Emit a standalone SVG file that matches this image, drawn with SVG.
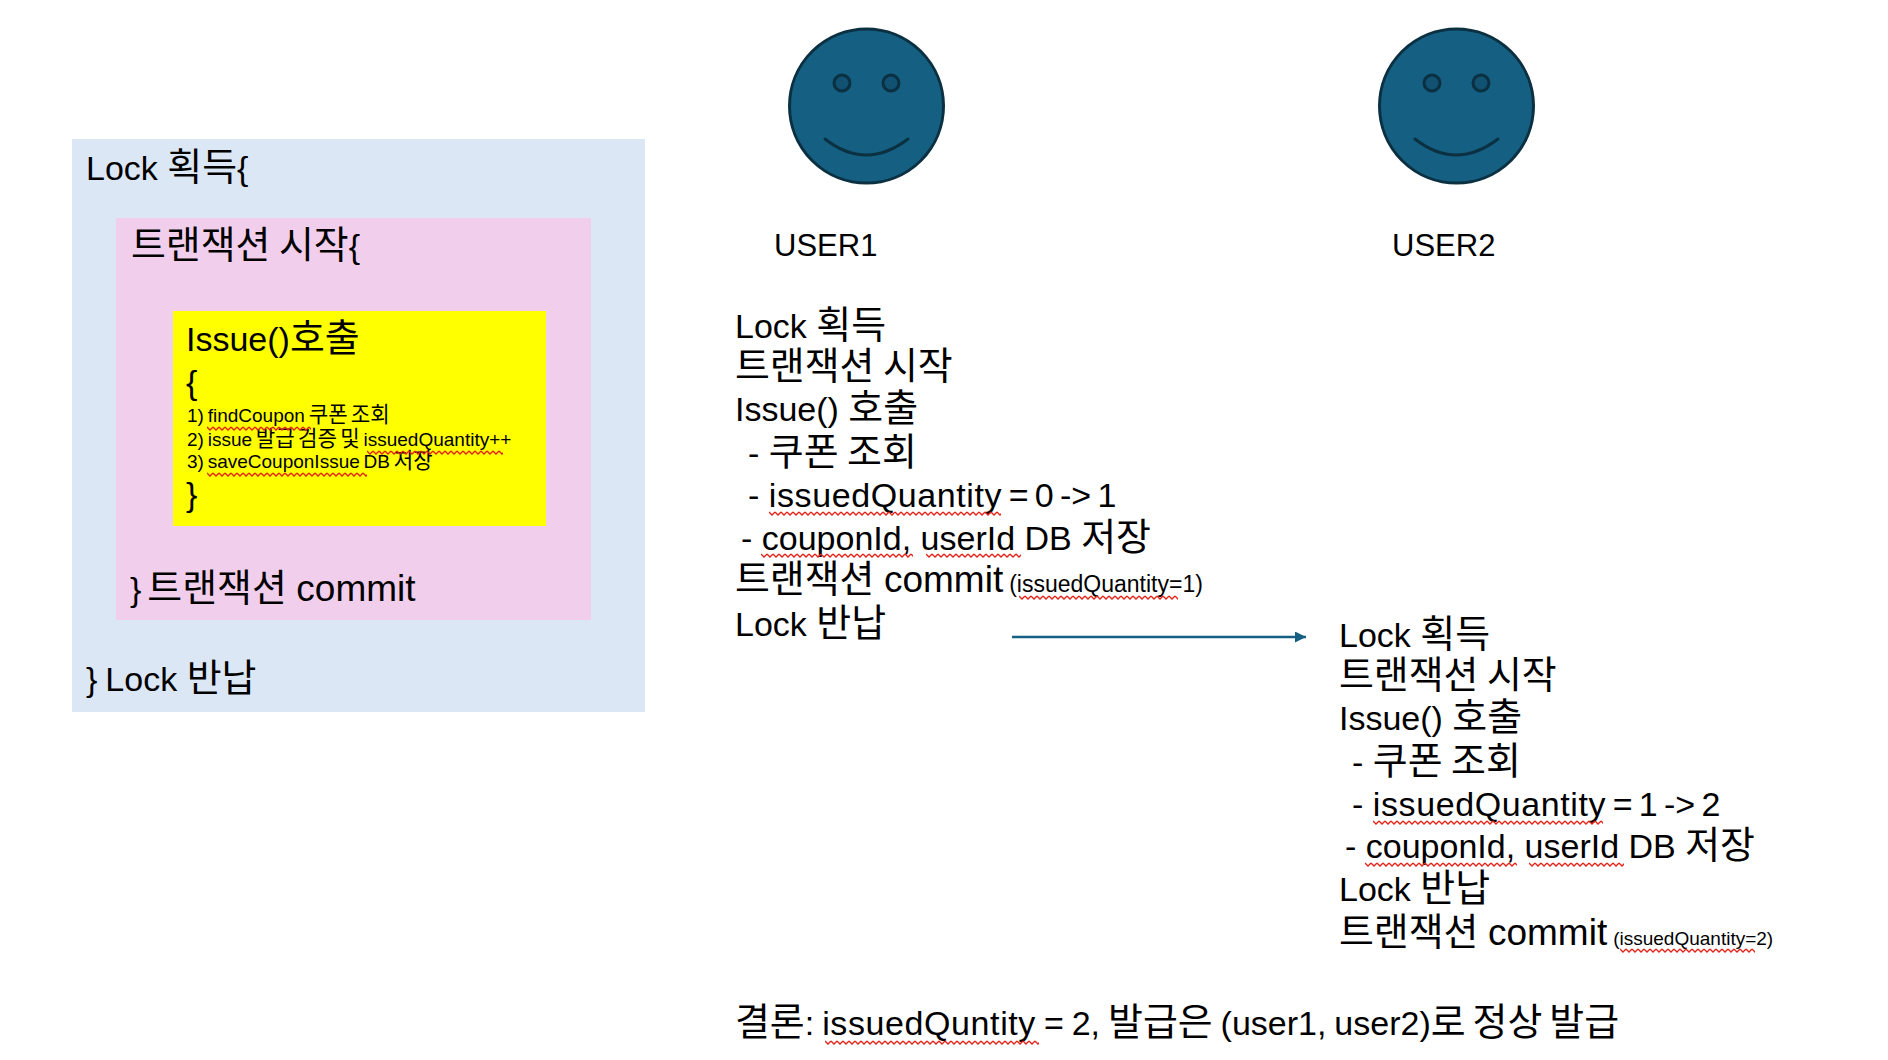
<svg xmlns="http://www.w3.org/2000/svg" width="1888" height="1060" viewBox="0 0 1888 1060">
<style>
text{font-family:"Liberation Sans","Noto Sans CJK KR",sans-serif;font-size:34px;fill:#000;white-space:pre}
tspan.k{font-family:"Noto Sans CJK KR","Liberation Sans",sans-serif;font-size:1.115em}
tspan.c{font-size:37px}
tspan.q{letter-spacing:.6px}
tspan.n{word-spacing:-2.7px;letter-spacing:-.2px}
text.t{font-size:19px;word-spacing:-1.5px}
text.u{font-size:31px}
.face{fill:#156082;stroke:#0b3041;stroke-width:3}
.eye{fill:#115272;stroke:#0b3041;stroke-width:3}
.smile{fill:none;stroke:#0b3041;stroke-width:3;stroke-linecap:round}
.w{fill:url(#wavy)}
</style>
<defs>
<pattern id="wavy" patternUnits="userSpaceOnUse" width="6" height="5"><path d="M0 1 L3 4 L6 1" fill="none" stroke="#e2231a" stroke-width="1.3"/></pattern>
<marker id="arr" markerUnits="userSpaceOnUse" markerWidth="12" markerHeight="12" refX="11" refY="5.5" orient="auto"><path d="M0 0 L11 5.5 L0 11 Z" fill="#156082"/></marker>
</defs>
<rect width="1888" height="1060" fill="#fff"/>
<g id="lock-box">
<rect x="72" y="139" width="573" height="573" fill="#dce7f6"/>
<text x="86" y="180">Lock <tspan class="k">획득</tspan>{</text>
<text x="86" y="691">}<tspan dx="8">Lock </tspan><tspan class="k">반납</tspan></text>
</g>
<g id="transaction-box">
<rect x="116" y="218" width="475" height="402" fill="#f1cfec"/>
<text x="131" y="258"><tspan class="k">트랜잭션 시작</tspan>{</text>
<text x="130" y="601">}<tspan dx="6" class="k">트랜잭션</tspan> <tspan class="c">commit</tspan></text>
</g>
<g id="issue-box">
<rect x="173" y="311" width="373" height="215" fill="#ffff00"/>
<text x="186" y="351">Issue()<tspan class="k">호출</tspan></text>
<text x="186" y="394">{</text>
<text class="t" x="187" y="422">1) findCoupon <tspan class="k">쿠폰 조회</tspan></text>
<text class="t" x="187" y="446">2) issue <tspan class="k">발급 검증 및</tspan> issuedQuantity++</text>
<text class="t" x="187" y="468">3) saveCouponIssue DB <tspan class="k">저장</tspan></text>
<text x="186" y="506">}</text>
<rect class="w" transform="translate(207,426)" width="104" height="5"/>
<rect class="w" transform="translate(367,450)" width="136" height="5"/>
<rect class="w" transform="translate(207,472)" width="160" height="5"/>
</g>
<g id="user1">
<circle class="face" cx="866.5" cy="106" r="77"/>
<circle class="eye" cx="842" cy="83" r="8"/>
<circle class="eye" cx="891" cy="83" r="8"/>
<path class="smile" d="M825 139 Q866 171 908 139"/>
<text class="u" x="774" y="256">USER1</text>
</g>
<g id="user2">
<circle class="face" cx="1456.5" cy="106" r="77"/>
<circle class="eye" cx="1432" cy="83" r="8"/>
<circle class="eye" cx="1481" cy="83" r="8"/>
<path class="smile" d="M1415 139 Q1456 171 1498 139"/>
<text class="u" x="1392" y="256">USER2</text>
</g>
<g id="user1-steps">
<text x="735" y="338">Lock <tspan class="k">획득</tspan></text>
<text x="735" y="379"><tspan class="k">트랜잭션 시작</tspan></text>
<text x="735" y="421">Issue() <tspan class="k">호출</tspan></text>
<text x="748" y="465">- <tspan class="k">쿠폰 조회</tspan></text>
<text x="748" y="507">- <tspan class="q">issuedQuantity</tspan><tspan class="n"> = 0 -&gt; 1</tspan></text>
<text x="741" y="550">- couponId, userId DB <tspan class="k">저장</tspan></text>
<text x="735" y="592"><tspan class="k">트랜잭션</tspan> <tspan class="c">commit</tspan><tspan dx="6" style="font-size:23px">(issuedQuantity=1)</tspan></text>
<text x="735" y="636">Lock <tspan class="k">반납</tspan></text>
<rect class="w" transform="translate(769,511)" width="232" height="5"/>
<rect class="w" transform="translate(761,553)" width="152" height="5"/>
<rect class="w" transform="translate(926,553)" width="95" height="5"/>
<rect class="w" transform="translate(1019,595)" width="159" height="5"/>
</g>
<g id="user2-steps">
<text x="1339" y="647">Lock <tspan class="k">획득</tspan></text>
<text x="1339" y="688"><tspan class="k">트랜잭션 시작</tspan></text>
<text x="1339" y="730">Issue() <tspan class="k">호출</tspan></text>
<text x="1352" y="774">- <tspan class="k">쿠폰 조회</tspan></text>
<text x="1352" y="816">- <tspan class="q">issuedQuantity</tspan><tspan class="n"> = 1 -&gt; 2</tspan></text>
<text x="1345" y="858">- couponId, userId DB <tspan class="k">저장</tspan></text>
<text x="1339" y="901">Lock <tspan class="k">반납</tspan></text>
<text x="1339" y="945"><tspan class="k">트랜잭션</tspan> <tspan class="c">commit</tspan><tspan dx="6" style="font-size:19px">(issuedQuantity=2)</tspan></text>
<rect class="w" transform="translate(1373,820)" width="230" height="5"/>
<rect class="w" transform="translate(1365,862)" width="152" height="5"/>
<rect class="w" transform="translate(1529,862)" width="95" height="5"/>
<rect class="w" transform="translate(1620,948)" width="135" height="5"/>
</g>
<g id="conclusion">
<text x="735" y="1035" style="word-spacing:-1.5px"><tspan class="k">결론</tspan>: <tspan class="q">issuedQuntity</tspan> = 2, <tspan class="k">발급은</tspan> (user1, user2)<tspan class="k">로 정상 발급</tspan></text>
<rect class="w" transform="translate(825,1040)" width="214" height="5"/>
</g>
<g id="connectors">
<line x1="1012" y1="637" x2="1306" y2="637" stroke="#156082" stroke-width="2.5" marker-end="url(#arr)"/>
</g>
</svg>
